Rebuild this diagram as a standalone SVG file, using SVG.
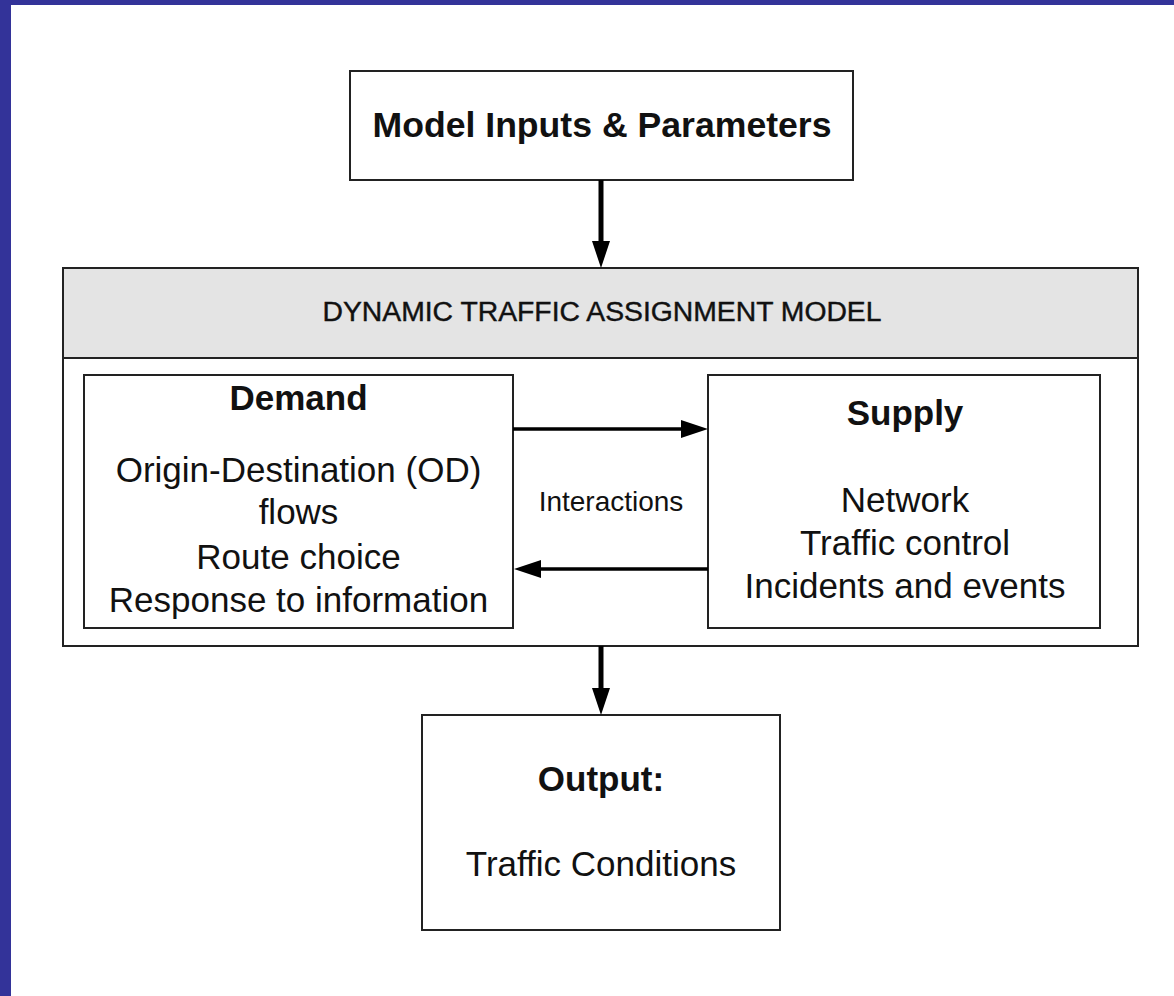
<svg xmlns="http://www.w3.org/2000/svg" width="1174" height="996" viewBox="0 0 1174 996">
  <style>
    .box { fill: #ffffff; stroke: #222222; stroke-width: 2; }
    .hdr { fill: #e4e4e4; stroke: #222222; stroke-width: 2; }
    .t { font-family: "Liberation Sans", Arial, sans-serif; fill: #111111; text-anchor: middle; }
    .b { font-weight: bold; font-size: 35px; }
    .r { font-size: 35px; }
    .conn { stroke: #000000; fill: none; }
  </style>
  <defs>
    <marker id="head" markerUnits="userSpaceOnUse" markerWidth="27" markerHeight="18" refX="0" refY="9" orient="auto">
      <path d="M0,0 L27,9 L0,18 z" fill="#000000"/>
    </marker>
  </defs>
  <rect x="0" y="0" width="1174" height="996" fill="#ffffff"/>
  <rect x="0" y="0" width="11" height="996" fill="#333399"/>
  <rect x="0" y="0" width="1174" height="5" fill="#333399"/>

  <g id="inputs">
    <rect class="box" x="350" y="71" width="503" height="109"/>
    <text class="t b" x="602" y="137" font-size="36" textLength="459" lengthAdjust="spacingAndGlyphs">Model Inputs &amp; Parameters</text>
  </g>

  <g id="dta">
    <rect class="box" x="63" y="268" width="1075" height="378"/>
    <rect class="hdr" x="63" y="268" width="1075" height="90"/>
    <text class="t" x="602" y="321" font-size="27" stroke="#111111" stroke-width="0.4" textLength="559" lengthAdjust="spacingAndGlyphs">DYNAMIC TRAFFIC ASSIGNMENT MODEL</text>
  </g>

  <g id="demand">
    <rect class="box" x="84" y="375" width="429" height="253"/>
    <text class="t b" x="298.5" y="410">Demand</text>
    <text class="t r" x="298.5" y="482">Origin-Destination (OD)</text>
    <text class="t r" x="298.5" y="524">flows</text>
    <text class="t r" x="298.5" y="569">Route choice</text>
    <text class="t r" x="298.5" y="612">Response to information</text>
  </g>

  <g id="supply">
    <rect class="box" x="708" y="375" width="392" height="253"/>
    <text class="t b" x="905" y="425">Supply</text>
    <text class="t r" x="905" y="512">Network</text>
    <text class="t r" x="905" y="555">Traffic control</text>
    <text class="t r" x="905" y="598">Incidents and events</text>
  </g>

  <g id="interactions">
    <text class="t" x="611" y="511" font-size="28">Interactions</text>
  </g>

  <g id="output">
    <rect class="box" x="422" y="715" width="358" height="215"/>
    <text class="t b" x="601" y="791">Output:</text>
    <text class="t r" x="601" y="876">Traffic Conditions</text>
  </g>

  <g id="connectors">
    <line class="conn" x1="601" y1="180" x2="601" y2="241" stroke-width="5" marker-end="url(#head)"/>
    <line class="conn" x1="601" y1="646" x2="601" y2="688" stroke-width="5" marker-end="url(#head)"/>
    <line class="conn" x1="513" y1="429" x2="681" y2="429" stroke-width="3.5" marker-end="url(#head)"/>
    <line class="conn" x1="708" y1="569" x2="541" y2="569" stroke-width="3.5" marker-end="url(#head)"/>
  </g>
</svg>
